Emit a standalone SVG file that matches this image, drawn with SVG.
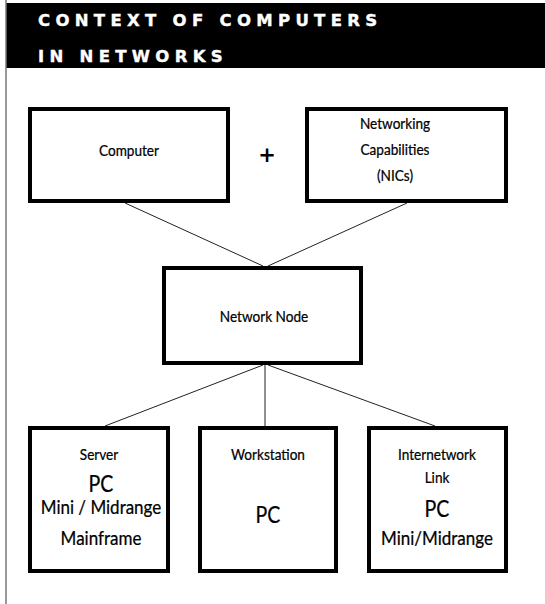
<svg xmlns="http://www.w3.org/2000/svg" width="545" height="604" viewBox="0 0 545 604">
<style>
.box{fill:#fff;stroke:#000;stroke-width:4}
.t{font-family:Lato,"Liberation Sans",sans-serif;fill:#000;stroke:#000;stroke-width:0.25;text-anchor:middle}
.s{font-size:16px}
.b{font-size:23px}
.m{font-size:20px}
.title{font-family:"DejaVu Sans","Liberation Sans",sans-serif;font-weight:bold;font-size:16.5px;letter-spacing:5.3px;fill:#fff;stroke:#fff;stroke-width:0.4}
.c{stroke:#222;stroke-width:1;fill:none}
</style>
<rect x="0" y="0" width="545" height="604" fill="#fff"/>
<g id="header">
<rect x="6" y="3" width="539" height="65" fill="#000"/>
<line x1="6" y1="0" x2="6" y2="604" stroke="#777" stroke-width="1.5"/>
<text class="title" x="38" y="26">CONTEXT OF COMPUTERS</text>
<text class="title" x="38" y="62">IN NETWORKS</text>
</g>
<g id="connectors">
<line class="c" x1="125" y1="203" x2="263" y2="266"/>
<line class="c" x1="407" y1="203" x2="268" y2="266"/>
<line class="c" x1="263" y1="365" x2="105" y2="426"/>
<line class="c" x1="265" y1="365" x2="265" y2="426"/>
<line class="c" x1="268" y1="365" x2="435" y2="426"/>
</g>
<g id="computer">
<rect class="box" x="30" y="109" width="198" height="92"/>
<text class="t s" transform="translate(129 156) scale(0.85 1)">Computer</text>
</g>
<text id="plus" x="267" y="162" font-family="DejaVu Sans,sans-serif" font-weight="bold" font-size="21" text-anchor="middle">+</text>
<g id="nic">
<rect class="box" x="307" y="109" width="199" height="92"/>
<text class="t s" transform="translate(395 129) scale(0.85 1)">Networking</text>
<text class="t s" transform="translate(395 155) scale(0.85 1)">Capabilities</text>
<text class="t s" transform="translate(395 181) scale(0.85 1)">(NICs)</text>
</g>
<g id="node">
<rect class="box" x="164" y="268" width="197" height="95"/>
<text class="t s" transform="translate(264 322) scale(0.85 1)">Network  Node</text>
</g>
<g id="server">
<rect class="box" x="30" y="428" width="138" height="143"/>
<text class="t s" transform="translate(99 460) scale(0.85 1)">Server</text>
<text class="t b" transform="translate(101 492) scale(0.85 1)">PC</text>
<text class="t m" transform="translate(101 514) scale(0.85 1)">Mini / Midrange</text>
<text class="t m" transform="translate(101 545) scale(0.85 1)">Mainframe</text>
</g>
<g id="workstation">
<rect class="box" x="200" y="428" width="136" height="143"/>
<text class="t s" transform="translate(268 460) scale(0.85 1)">Workstation</text>
<text class="t b" transform="translate(268 523) scale(0.85 1)">PC</text>
</g>
<g id="internetwork">
<rect class="box" x="369" y="428" width="137" height="143"/>
<text class="t s" transform="translate(437 460) scale(0.85 1)">Internetwork</text>
<text class="t s" transform="translate(437 483) scale(0.85 1)">Link</text>
<text class="t b" transform="translate(437 517) scale(0.85 1)">PC</text>
<text class="t m" transform="translate(437 545) scale(0.85 1)">Mini/Midrange</text>
</g>
</svg>
